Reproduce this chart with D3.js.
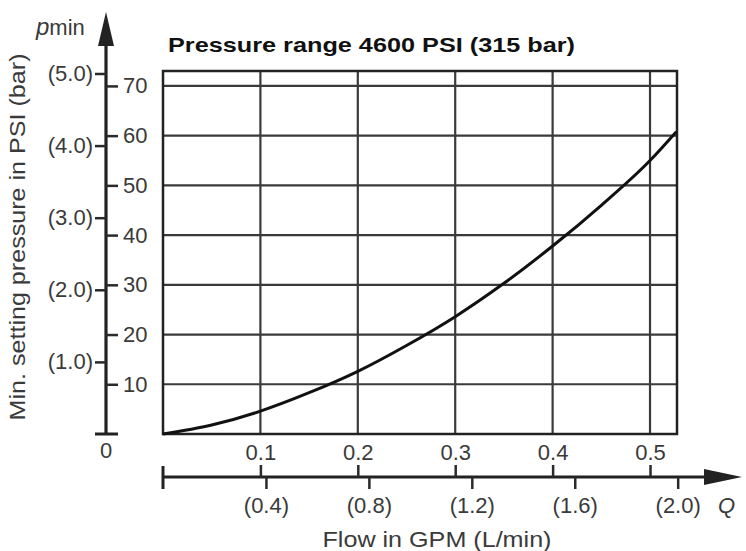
<!DOCTYPE html>
<html>
<head>
<meta charset="utf-8">
<script src="https://cdn.jsdelivr.net/npm/d3@7"></script>
<style>
  body { margin: 0; background: #fff; }
  svg { display: block; font-family: "Liberation Sans", Arial, sans-serif; }
  .tick line { stroke: #2a2a2a; stroke-width: 2.5px; }
  .tick text { fill: #3a3a3a; font-size: 22px; }
</style>
</head>
<body>
<svg width="746" height="551"></svg>
<script>
// flow in GPM vs minimum setting pressure in PSI
var flowGpm = [0, 0.05, 0.1, 0.15, 0.2, 0.25, 0.3, 0.35, 0.4, 0.45, 0.5, 0.527]
var pressurePsi = [0, 1.8, 4.6, 8.3, 12.6, 17.8, 23.6, 30.3, 37.8, 46.0, 55.0, 60.8]

var psiTicks = [10, 20, 30, 40, 50, 60, 70]
var barTicks = [1.0, 2.0, 3.0, 4.0, 5.0]
var gpmTicks = [0.1, 0.2, 0.3, 0.4, 0.5]
var lpmTicks = [0.4, 0.8, 1.2, 1.6, 2.0]

var PSI_PER_BAR = 14.5
var LPM_PER_GPM = 3.785

var svg = d3.select('svg')

var x = d3.scaleLinear().domain([0, 0.5277]).range([163, 677])
var y = d3.scaleLinear().domain([0, 73]).range([434, 71])
var yBar = d3.scaleLinear().domain([0, 73 / PSI_PER_BAR]).range([434, 71])
var xL = d3.scaleLinear().domain([0, 0.5277 * LPM_PER_GPM]).range([163, 677])

var ink = '#222'

// grid
var grid = svg.append('g')
grid.selectAll('.vg')
    .data(gpmTicks)
  .enter().append('line')
    .attr('x1', d => x(d)).attr('x2', d => x(d))
    .attr('y1', y.range()[1]).attr('y2', y.range()[0])
    .attr('stroke', '#3a3a3a').attr('stroke-width', 2.2)
grid.selectAll('.hg')
    .data(psiTicks)
  .enter().append('line')
    .attr('x1', x.range()[0]).attr('x2', x.range()[1])
    .attr('y1', d => y(d)).attr('y2', d => y(d))
    .attr('stroke', '#3a3a3a').attr('stroke-width', 2.2)

svg.append('rect')
    .attr('x', x.range()[0]).attr('y', y.range()[1])
    .attr('width', x.range()[1] - x.range()[0])
    .attr('height', y.range()[0] - y.range()[1])
    .attr('fill', 'none').attr('stroke', ink).attr('stroke-width', 2.5)

// curve
var line = d3.line()
    .x((d, i) => x(flowGpm[i]))
    .y(d => y(d))
    .curve(d3.curveMonotoneX)

svg.append('path')
    .datum(pressurePsi)
    .attr('d', line)
    .attr('fill', 'none').attr('stroke', '#111').attr('stroke-width', 3)

// vertical axis
var ax = 106
svg.append('line')
    .attr('x1', ax).attr('x2', ax).attr('y1', 40).attr('y2', y(0))
    .attr('stroke', ink).attr('stroke-width', 3.2)
svg.append('line')
    .attr('x1', 95).attr('x2', 118).attr('y1', y(0)).attr('y2', y(0))
    .attr('stroke', ink).attr('stroke-width', 3)
svg.append('path')
    .attr('d', 'M' + ax + ',12L' + (ax + 8) + ',46L' + (ax - 8) + ',46Z')
    .attr('fill', ink)

svg.append('g')
    .attr('transform', 'translate(' + ax + ',0)')
    .call(d3.axisRight(y).tickValues(psiTicks).tickSize(12).tickPadding(5))
    .call(g => g.select('.domain').remove())

svg.append('g')
    .attr('transform', 'translate(' + ax + ',0)')
    .call(d3.axisLeft(yBar).tickValues(barTicks).tickSize(11).tickPadding(2)
      .tickFormat(d => '(' + d3.format('.1f')(d) + ')'))
    .call(g => g.select('.domain').remove())

svg.append('text')
    .attr('x', ax).attr('y', 458)
    .attr('text-anchor', 'middle')
    .attr('fill', '#3a3a3a').attr('font-size', 22)
    .text('0')

svg.append('text')
    .attr('transform', 'translate(25,237) rotate(-90)')
    .attr('text-anchor', 'middle')
    .attr('fill', '#3a3a3a').attr('font-size', 22)
    .attr('textLength', 367).attr('lengthAdjust', 'spacingAndGlyphs')
    .text('Min. setting pressure in PSI (bar)')

var pm = svg.append('text')
    .attr('x', 36).attr('y', 35)
    .attr('fill', '#3a3a3a').attr('font-size', 22)
pm.append('tspan').attr('font-style', 'italic').attr('font-size', 24).text('p')
pm.append('tspan').text('min')

// horizontal axis
var ay = 477
svg.append('line')
    .attr('x1', x(0)).attr('x2', 708).attr('y1', ay).attr('y2', ay)
    .attr('stroke', ink).attr('stroke-width', 3.2)
svg.append('line')
    .attr('x1', x(0)).attr('x2', x(0)).attr('y1', 466).attr('y2', 489)
    .attr('stroke', ink).attr('stroke-width', 3)
svg.append('path')
    .attr('d', 'M742,' + ay + 'L704,' + (ay - 8) + 'L704,' + (ay + 8) + 'Z')
    .attr('fill', ink)

svg.append('g')
    .attr('transform', 'translate(0,' + ay + ')')
    .call(d3.axisTop(x).tickValues(gpmTicks).tickSize(12).tickPadding(5)
      .tickFormat(d3.format('.1f')))
    .call(g => g.select('.domain').remove())

svg.append('g')
    .attr('transform', 'translate(0,' + ay + ')')
    .call(d3.axisBottom(xL).tickValues(lpmTicks).tickSize(12).tickPadding(8)
      .tickFormat(d => '(' + d3.format('.1f')(d) + ')'))
    .call(g => g.select('.domain').remove())

svg.append('text')
    .attr('x', 718).attr('y', 513)
    .attr('fill', '#3a3a3a').attr('font-size', 22).attr('font-style', 'italic')
    .text('Q')

svg.append('text')
    .attr('x', 437).attr('y', 547)
    .attr('text-anchor', 'middle')
    .attr('fill', '#3a3a3a').attr('font-size', 22)
    .attr('textLength', 229).attr('lengthAdjust', 'spacingAndGlyphs')
    .text('Flow in GPM (L/min)')

// title
svg.append('text')
    .attr('x', 168).attr('y', 52)
    .attr('fill', '#111').attr('font-size', 21).attr('font-weight', 'bold')
    .attr('textLength', 407).attr('lengthAdjust', 'spacingAndGlyphs')
    .text('Pressure range 4600 PSI (315 bar)')
</script>
</body>
</html>
